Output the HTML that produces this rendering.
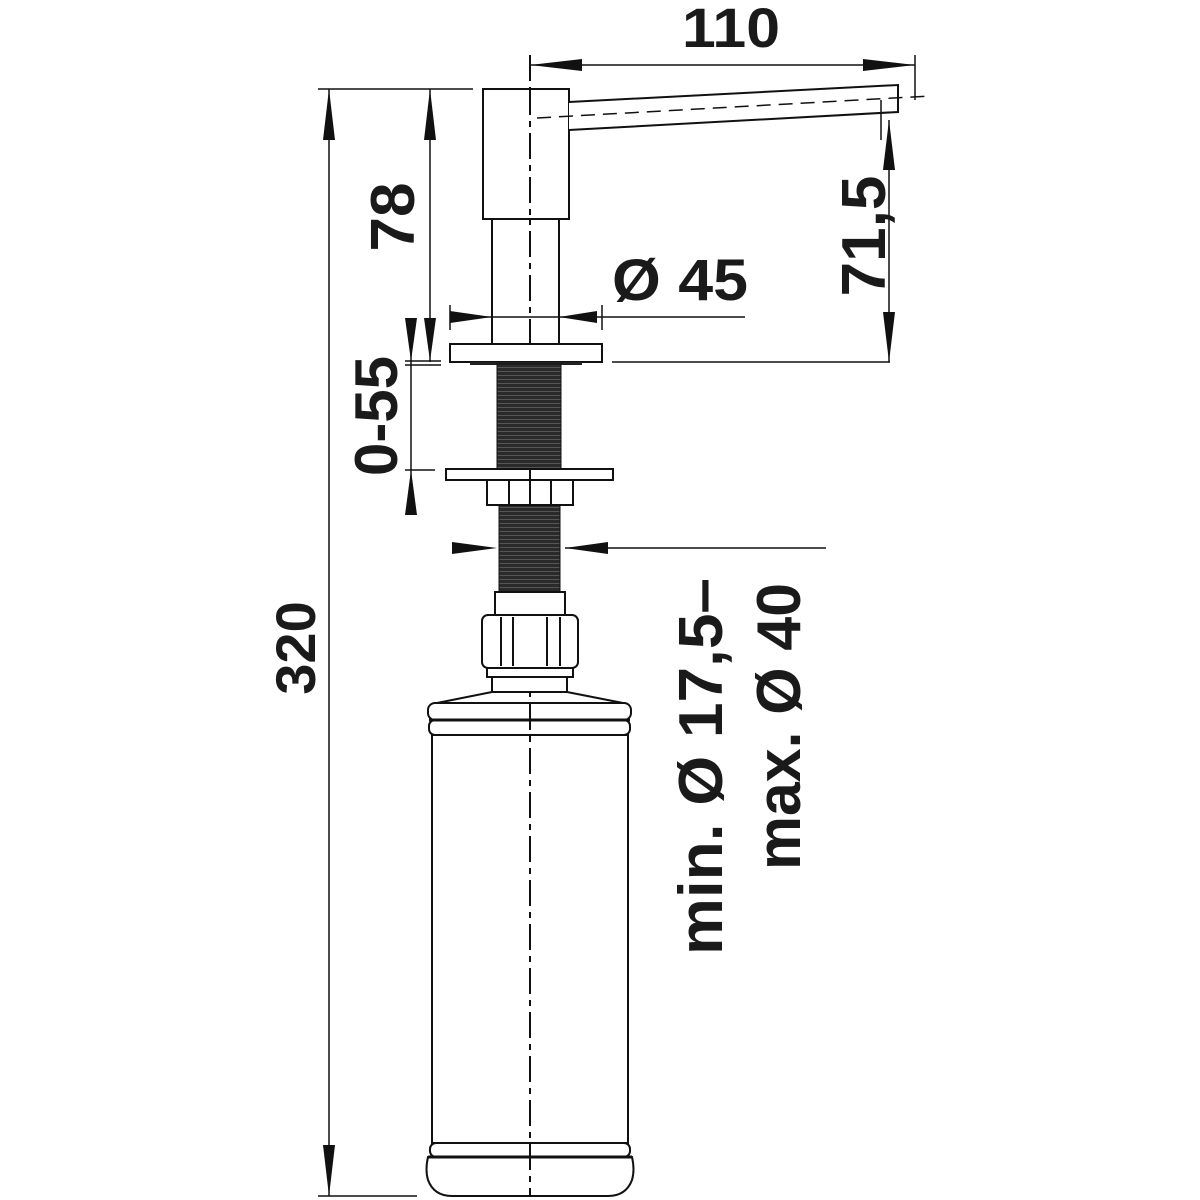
<!DOCTYPE html>
<html><head><meta charset="utf-8"><style>html,body{margin:0;padding:0;background:#fff}svg{display:block}text{font-family:"Liberation Sans",sans-serif;font-weight:bold;fill:#1a1a1a}</style></head>
<body>
<svg width="1200" height="1200" viewBox="0 0 1200 1200" xmlns="http://www.w3.org/2000/svg">
<defs>
<pattern id="thr" width="6" height="4" patternUnits="userSpaceOnUse"><rect width="6" height="4" fill="#2a2a2a"/><rect y="3" width="6" height="1" fill="#555"/></pattern>
</defs>
<g stroke="#111" fill="none" stroke-width="2">
<line x1="530" y1="55" x2="530" y2="1196" stroke-dasharray="26,6,6,6" stroke-width="2"/>
<line x1="530" y1="65" x2="915" y2="65" stroke-width="1.5"/>
<line x1="915" y1="55" x2="915" y2="100" stroke-width="1.5"/>
<rect x="483" y="89" width="86" height="130" fill="#fff"/>
<line x1="530" y1="89" x2="530" y2="219" stroke-dasharray="26,6,6,6"/>
<path d="M569 102 L898 85 L898 112 L569 130" fill="#fff"/>
<line x1="537" y1="118" x2="930" y2="96" stroke-dasharray="14,8" stroke-width="1.5"/>
<line x1="881" y1="100" x2="881" y2="140" stroke-width="1.5"/>
<line x1="492" y1="219" x2="492" y2="345"/>
<line x1="559" y1="219" x2="559" y2="345"/>
<line x1="889" y1="120" x2="889" y2="362" stroke-width="1.5"/>
<line x1="612" y1="362" x2="890" y2="362" stroke-width="1.5"/>
<line x1="450" y1="317" x2="745" y2="317" stroke-width="1.5"/>
<line x1="450" y1="305" x2="450" y2="330" stroke-width="1.5"/>
<line x1="602" y1="305" x2="602" y2="330" stroke-width="1.5"/>
<rect x="450" y="344" width="152" height="18" fill="#fff"/>
<rect x="470" y="362" width="112" height="3" fill="#222" stroke="none"/>
<rect x="497" y="364" width="64" height="106" fill="url(#thr)" stroke-width="1"/>
<rect x="499" y="505" width="61" height="88" fill="url(#thr)" stroke-width="1"/>
<rect x="446" y="469" width="167" height="11" fill="#fff"/>
<rect x="487" y="480" width="86" height="25" fill="#fff"/>
<line x1="509" y1="480" x2="509" y2="505"/><line x1="551" y1="480" x2="551" y2="505"/>
<line x1="530" y1="469" x2="530" y2="505"/>
<rect x="495" y="592" width="70" height="23" fill="#fff"/>
<rect x="482" y="615" width="96" height="53" rx="6" fill="#fff"/>
<line x1="501" y1="617" x2="501" y2="666"/><line x1="513" y1="617" x2="513" y2="666"/>
<line x1="547" y1="617" x2="547" y2="666"/><line x1="560" y1="617" x2="560" y2="666"/>
<rect x="487" y="668" width="86" height="9" fill="#fff"/>
<rect x="492" y="677" width="75" height="15" fill="#fff"/>
<path d="M492 692 L432 704 M567 692 L628 704"/>
<rect x="428" y="703" width="203" height="17" rx="7" fill="#fff"/>
<rect x="429" y="720" width="201" height="15" rx="6" fill="#fff"/>
<line x1="429" y1="720" x2="630" y2="720" stroke-width="3"/>
<rect x="432" y="735" width="196" height="408" fill="#fff"/>
<rect x="430" y="1143" width="200" height="14" rx="6" fill="#fff"/>
<path d="M428 1157 L632 1157 Q635 1170 632 1180 Q626 1196 608 1196 L452 1196 Q434 1196 428 1180 Q425 1170 428 1157 Z" fill="#fff"/>
<line x1="428" y1="1157" x2="632" y2="1157" stroke-width="3"/>
<line x1="530" y1="704" x2="530" y2="1196" stroke-dasharray="26,6,6,6"/>
<line x1="329" y1="89" x2="329" y2="1196" stroke-width="1.5"/>
<line x1="318" y1="89" x2="473" y2="89" stroke-width="1.5"/>
<line x1="318" y1="1196" x2="417" y2="1196" stroke-width="1.5"/>
<line x1="430" y1="89" x2="430" y2="362" stroke-width="1.5"/>
<line x1="411" y1="320" x2="411" y2="515" stroke-width="1.5"/>
<line x1="405" y1="361" x2="441" y2="361" stroke-width="1.5"/>
<line x1="405" y1="365" x2="441" y2="365" stroke-width="1.5"/>
<line x1="405" y1="470" x2="435" y2="470" stroke-width="1.5"/>
<line x1="565" y1="548" x2="826" y2="548" stroke-width="1.5"/>
</g>
<g fill="#111">
<polygon points="530,65 582,59 582,71"/><polygon points="915,65 863,59 863,71"/>
<polygon points="329,89 323,140 335,140"/><polygon points="329,1196 323,1145 335,1145"/>
<polygon points="430,89 424,140 436,140"/><polygon points="430,361 424,318 436,318"/>
<polygon points="411,361 405,318 417,318"/><polygon points="411,470 405,515 417,515"/>
<polygon points="889,120 883,170 895,170"/><polygon points="889,362 883,312 895,312"/>
<polygon points="492,317 450,311 450,323"/><polygon points="559,317 597,311 597,323"/>
<polygon points="497,548 452,542 452,554"/><polygon points="565,548 608,542 608,554"/>
</g>
<text x="682" y="47" font-size="56" textLength="98" lengthAdjust="spacingAndGlyphs">110</text>
<text x="612" y="300" font-size="58" textLength="136" lengthAdjust="spacingAndGlyphs">Ø 45</text>
<text transform="translate(315,648) rotate(-90)" font-size="56" text-anchor="middle">320</text>
<text transform="translate(414,217) rotate(-90)" font-size="62" text-anchor="middle">78</text>
<text transform="translate(397,416) rotate(-90)" font-size="60" text-anchor="middle">0-55</text>
<text transform="translate(885,236) rotate(-90)" font-size="62" text-anchor="middle">71,5</text>
<text transform="translate(722,955) rotate(-90)" font-size="62" textLength="377" lengthAdjust="spacingAndGlyphs">min. Ø 17,5–</text>
<text transform="translate(800,870) rotate(-90)" font-size="62" textLength="287" lengthAdjust="spacingAndGlyphs">max. Ø 40</text>
</svg>
</body></html>
